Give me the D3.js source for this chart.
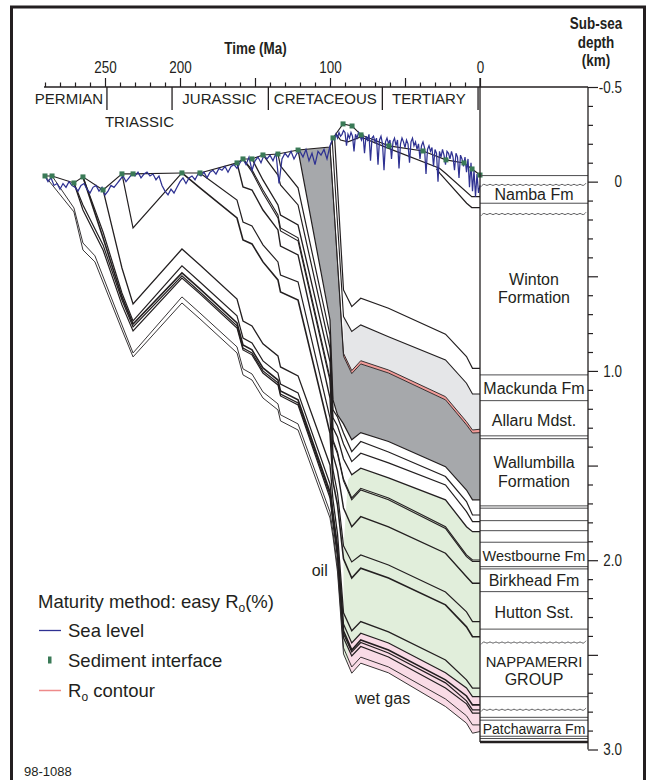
<!DOCTYPE html>
<html><head><meta charset="utf-8">
<script src="https://cdn.jsdelivr.net/npm/d3@7"></script>
<style>
html,body{margin:0;padding:0;background:#fff;}
svg{display:block;}
text{font-family:"Liberation Sans",Arial,Helvetica,sans-serif;fill:#231f20;}
</style></head><body>
<svg id="c" width="648" height="780"></svg>
<script>
// ---------------- DATA (age in Ma, depth in km below sea level) ----------------
const timeMinorTicks = [290,280,270,260,240,230,220,210,190,180,170,160,140,130,120,110,90,80,70,60,40,30,20,10];
const timeMajorTicks = [250,200,150,100,50,0];
const timeTickLabels = [250,200,100,0];
const depthMinorTicks = [-0.4,-0.3,-0.2,-0.1,0.1,0.2,0.3,0.4,0.6,0.7,0.8,0.9,1.1,1.2,1.3,1.4,1.6,1.7,1.8,1.9,2.1,2.2,2.3,2.4,2.6,2.7,2.8,2.9];
const depthMajorTicks = [-0.5,0,0.5,1,1.5,2,2.5,3];
const depthTickLabels = [-0.5,0,1,2,3];

const periodNames = ["PERMIAN","TRIASSIC","JURASSIC","CRETACEOUS","TERTIARY"];
const periodLabelAges = [274,227,173.7,103.1,34.1];
const periodLabelRows = [0,1,0,0,0];
const periodBounds = [248.7,205.3,141.1,65.1,1.3];

const surface = [[290,-0.030],[285.3,-0.030],[270.7,0.007],[264.7,-0.025],[251.3,0.044],[238.7,-0.041],[231.3,-0.041],[198.7,-0.046],[186.7,-0.046],[162,-0.099],[158,-0.120],[152,-0.120],[144.7,-0.141],[134.7,-0.146],[121.3,-0.167],[100,-0.183],[98,-0.231],[91.3,-0.305],[85.3,-0.294],[79.3,-0.247],[60.7,-0.189],[38,-0.162],[22.7,-0.115],[10.7,-0.099],[5.3,-0.067],[0,-0.035]];

const H1 = [[290,-0.030],[270.7,0.160],[264.7,0.361],[256.7,0.424],[238.7,0.783],[231.3,0.926],[198.7,0.641],[186.7,0.725],[162,0.905],[158,1.021],[152,1.048],[144.7,1.143],[134.7,1.206],[133,1.264],[121.3,1.312],[100,1.777],[98,1.877],[95,2.062],[91,2.495],[85.5,2.597],[79.5,2.544],[61,2.595],[23,2.773],[9,2.861],[5,2.914],[0,2.905]];
const H2 = [[285.3,-0.030],[270.7,0.139],[264.7,0.324],[256.7,0.392],[238.7,0.757],[231.3,0.905],[198.7,0.609],[186.7,0.694],[162,0.873],[158,0.989],[152,1.016],[144.7,1.111],[134.7,1.174],[133,1.232],[121.3,1.280],[100,1.745],[98,1.850],[95,2.035],[91,2.463],[85.5,2.564],[79.5,2.512],[61,2.564],[23,2.733],[9,2.822],[5,2.870],[0,2.870]];
const H3 = [[270.7,0.007],[264.7,0.150],[251.3,0.361],[238.7,0.651],[231.3,0.789],[198.7,0.509],[186.7,0.593],[162,0.773],[158,0.889],[152,0.915],[144.7,1.011],[134.7,1.074],[133,1.132],[121.3,1.180],[100,1.671],[98,1.803],[95,1.983],[91,2.410],[85.5,2.506],[79.5,2.456],[61,2.511],[23,2.675],[9,2.759],[5,2.808],[0,2.808]];
const H4 = [[270.7,0.007],[264.7,0.123],[251.3,0.334],[238.7,0.625],[231.3,0.768],[198.7,0.498],[186.7,0.583],[162,0.762],[158,0.879],[152,0.905],[144.7,1.000],[134.7,1.063],[133,1.122],[121.3,1.169],[100,1.655],[98,1.787],[95,1.967],[91,2.389],[85.5,2.484],[79.5,2.435],[61,2.490],[23,2.648],[9,2.743],[5,2.791],[0,2.791]];
const H5 = [[264.7,-0.025],[251.3,0.297],[238.7,0.609],[231.3,0.752],[198.7,0.482],[186.7,0.567],[162,0.746],[158,0.863],[152,0.889],[144.7,0.984],[134.7,1.048],[133,1.106],[121.3,1.153],[100,1.639],[98,1.771],[95,1.951],[91,2.373],[85.5,2.474],[79.5,2.421],[61,2.474],[23,2.632],[9,2.717],[5,2.764],[0,2.764]];
const H6 = [[264.7,-0.025],[251.3,0.266],[238.7,0.588],[231.3,0.736],[198.7,0.445],[186.7,0.530],[162,0.709],[158,0.826],[152,0.852],[144.7,0.947],[134.7,1.011],[133,1.069],[121.3,1.116],[100,1.597],[98,1.745],[95,1.924],[91,2.337],[85.5,2.437],[79.5,2.386],[61,2.437],[23,2.595],[9,2.675],[5,2.721],[0,2.721]];
const H7 = [[251.3,0.044],[238.7,0.456],[231.3,0.646],[198.7,0.356],[186.7,0.440],[162,0.620],[158,0.736],[152,0.762],[144.7,0.857],[134.7,0.921],[133,0.979],[121.3,1.026],[100,1.497],[98,1.681],[95,1.861],[91,2.278],[85.5,2.373],[79.5,2.324],[61,2.379],[23,2.527],[9,2.632],[5,2.676],[0,2.676]];
const H8 = [[238.7,-0.041],[231.3,0.245],[198.7,-0.046]];
const J1 = [[198.7,-0.046],[186.7,0.033],[162,0.192],[158,0.308],[152,0.329],[144.7,0.424],[134.7,0.519],[133,0.583],[121.3,0.625],[100,1.328],[98,1.586],[95,1.708],[91,1.993],[85.5,2.094],[79.5,2.042],[61,2.094],[23,2.236],[9,2.352],[5,2.404],[0,2.404]];
const J2 = [[186.7,-0.046],[162,0.097],[158,0.213],[152,0.234],[144.7,0.334],[134.7,0.424],[133,0.493],[121.3,0.530],[100,1.248],[98,1.523],[95,1.645],[91,1.924],[85.5,2.009],[79.5,1.972],[61,2.025],[23,2.168],[9,2.273],[5,2.324],[0,2.324]];
const K162 = [[162,-0.099],[158,0.028],[152,0.044],[144.7,0.150],[134.7,0.255],[133,0.340],[121.3,0.387],[100,1.143],[98,1.444],[95,1.528],[91,1.724],[85.5,1.823],[79.5,1.770],[61,1.824],[23,1.963],[9,2.087],[5,2.122],[0,2.122]];
const K158a = [[158,-0.120],[152,-0.062],[144.7,0.044],[134.7,0.176],[133,0.245],[121.3,0.297],[100,1.037],[98,1.364],[95,1.428],[91,1.571],[85.5,1.671],[79.5,1.620],[61,1.671],[23,1.823],[9,1.972],[5,1.999],[0,1.999]];
const K158b = [[158,-0.120],[152,-0.051],[144.7,0.060],[134.7,0.192],[133,0.260],[121.3,0.313],[100,1.053],[98,1.375],[95,1.438],[91,1.581],[85.5,1.681],[79.5,1.629],[61,1.681],[23,1.832],[9,1.981],[5,2.007],[0,2.007]];
const K152 = [[152,-0.120],[144.7,-0.009],[134.7,0.123],[133,0.176],[121.3,0.229],[100,0.952],[98,1.301],[95,1.349],[91,1.465],[85.5,1.549],[79.5,1.514],[61,1.565],[23,1.681],[9,1.823],[5,1.849],[0,1.849]];
const K145 = [[144.7,-0.141],[134.7,-0.035],[133,0.017],[121.3,0.123],[100,0.879],[98,1.248],[95,1.291],[91,1.386],[85.5,1.479],[79.5,1.435],[61,1.486],[23,1.602],[9,1.743],[5,1.796],[0,1.796]];
const K135 = [[134.7,-0.146],[133,-0.083],[121.3,0.033],[100,0.810],[98,1.206],[95,1.243],[91,1.328],[85.5,1.426],[79.5,1.373],[61,1.428],[23,1.558],[9,1.690],[5,1.761],[0,1.761]];
const wallumbillaBase = [[121.3,-0.167],[100,0.731],[98,1.153],[95,1.232],[91,1.280],[85.5,1.364],[79.5,1.326],[61,1.373],[23,1.506],[9,1.629],[5,1.681],[0,1.681]];
const roTop = [[100,-0.183],[91,0.907],[85.5,0.998],[79.5,0.946],[61,0.995],[23,1.136],[9,1.268],[5,1.312],[0,1.308]];
const roBottom = [[100,-0.183],[91,0.922],[85.5,1.014],[79.5,0.963],[61,1.011],[23,1.153],[9,1.285],[5,1.328],[0,1.326]];
const mackundaBase = [[98.5,-0.215],[91,0.713],[85.5,0.792],[79.5,0.757],[61,0.819],[23,0.942],[9,1.065],[5,1.122],[0,1.122]];
const wintonBase = [[97,-0.241],[91,0.572],[85.5,0.660],[79.5,0.616],[61,0.669],[23,0.806],[9,0.924],[5,0.986],[0,0.986]];
const namba1 = [[96,-0.252],[93,-0.220],[88,-0.210],[79.5,-0.236],[61,-0.176],[27,-0.071],[23,-0.044],[5.5,0.079],[0,0.079]];
const namba2 = [[29,-0.067],[26.7,-0.044],[8.9,0.114],[5.5,0.137],[0,0.137]];

const oilTop = [[91,1.930],[88,1.576],[85.5,1.549],[79.5,1.514],[61,1.565],[23,1.681],[9,1.823],[5,1.849],[0,1.849]];
const gasTop = [[87.8,2.400],[85.5,2.437],[79.5,2.386],[61,2.437],[23,2.595],[9,2.675],[5,2.721],[0,2.721]];
const gasTip = [87.8,2.553];

const seaLevel = [
[290,-0.03],[288,0.00],[286,-0.02],[284,0.02],[282,0.01],[280,0.04],[278,0.01],[276,0.03],[274,0.00],[272,0.02],
[270,0.03],[268,0.05],[266,0.02],[264,0.01],[262,0.04],[260,0.06],[258,0.03],[256,0.02],[254,0.05],[252,0.03],
[250,0.07],[248,0.05],[246,0.02],[244,0.03],[242,0.01],[240,-0.01],[238,-0.03],[236,0.00],[234,-0.02],[232,-0.04],
[230,-0.03],[228,-0.05],[226,-0.02],[224,-0.04],[222,-0.05],[220,-0.03],[218,-0.04],[216,-0.01],[214,-0.03],[212,0.02],
[210,0.05],[208,0.07],[206,0.04],[204,0.06],[202,0.03],[200,0.00],[198,-0.02],[196,0.01],[194,-0.02],[192,-0.03],
[190,-0.01],[188,-0.04],[186,-0.03],[184,-0.05],[182,-0.02],[180,-0.05],[178,-0.06],[176,-0.04],[174,-0.07],[172,-0.06],
[170,-0.08],[168,-0.05],[166,-0.08],[164,-0.09],[162,-0.07],[160,-0.10],[158,-0.12],[156,-0.09],[154,-0.13],[152,-0.06],
[150,-0.11],[148,-0.13],[146,-0.10],[144,-0.14],[142,-0.12],[140,-0.14],[138,-0.11],[136,-0.15],[134,0.01],[132,-0.12],
[130,-0.15],[128,-0.13],[126,-0.16],[124,-0.12],[122,-0.15],[120,-0.16],[118,-0.13],[116,-0.17],[114,-0.11],[112,-0.15],
[110,-0.09],[108,-0.16],[106,-0.14],[104,-0.17],[102,-0.12],[100,-0.19],
[99,-0.21],[98,-0.23],[97,-0.22],[96,-0.25],[95,-0.23],[94,-0.26],[93,-0.24],[92,-0.25],[91,-0.27],[90,-0.26],
[89,-0.19],[88,-0.25],[87,-0.23],[86,-0.26],[85,-0.24],[84,-0.16],[83,-0.25],[82,-0.23],[81,-0.26],[80,-0.24],
[79,-0.22],[78,-0.25],[77,-0.15],[76,-0.24],[75,-0.22],[74,-0.25],[73,-0.11],[72,-0.23],[71,-0.24],[70,-0.21],
[69,-0.23],[68,-0.09],[67,-0.22],[66,-0.24],[65,-0.20],[64,-0.06],[63,-0.21],[62,-0.23],[61,-0.20],[60,-0.22],
[59,-0.12],[58,-0.21],[57,-0.23],[56,-0.19],[55,-0.22],[54,-0.07],[53,-0.20],[52,-0.23],[51,-0.21],[50,-0.18],
[49,-0.22],[48,-0.20],[47,-0.10],[46,-0.21],[45,-0.23],[44,-0.19],[43,-0.21],[42,-0.17],[41,-0.20],[40,-0.12],
[39,-0.19],[38,-0.21],[37,-0.18],[36,-0.04],[35,-0.17],[34,-0.19],[33,-0.16],[32,-0.18],[31,-0.08],[30,-0.17],
[29,-0.15],[28,0.00],[27,-0.16],[26,-0.13],[25,-0.17],[24,-0.14],[23,-0.09],[22,-0.16],[21,-0.15],[20,-0.12],
[19,-0.16],[18,-0.13],[17,-0.06],[16,-0.15],[15,-0.13],[14,-0.02],[13,-0.14],[12,-0.12],[11,-0.08],[10,-0.13],
[9,-0.05],[8,-0.12],[7,0.03],[6,-0.10],[5,0.05],[4,-0.06],[3,0.08],[2,-0.04],[1,0.06],[0,0.02]];

const columnLines = [-0.032,0.114,1.021,1.157,1.343,1.358,1.713,1.725,1.791,1.844,1.905,2.034,2.046,2.166,2.364,2.721,2.830,2.845,2.930,2.942];
const columnBase = 2.960;
const unconformities = [0.017,0.171,2.435,2.790];
const formationNames = ["Namba Fm","Winton","Formation","Mackunda Fm","Allaru Mdst.","Wallumbilla","Formation","Westbourne Fm","Birkhead Fm","Hutton Sst.","NAPPAMERRI","GROUP","Patchawarra Fm"];
const formationLabelDepths = [0.097,0.546,0.642,1.122,1.291,1.512,1.613,2.004,2.136,2.305,2.564,2.659,2.918];

// ---------------- STYLE ----------------
const formationFontSizes = [16,16,16,16,16,16,16,14.5,16,16,14.8,16,14];
const ink = "#231f20";
const NARROW = 0.84; // condensed face imitation for axis lettering

// ---------------- DRAW ----------------
const svg = d3.select("#c");
const x = d3.scaleLinear().domain([290,0]).range([45,480]);
const y = d3.scaleLinear().domain([-0.5,3]).range([87,749.5]);
const line = d3.line().x(d=>x(d[0])).y(d=>y(d[1]));
const poly = pts => line(pts) + "Z";
function narrow(sel){
  sel.each(function(){
    const w = this.getComputedTextLength();
    if (w > 0) d3.select(this).attr("textLength", w*NARROW).attr("lengthAdjust","spacingAndGlyphs");
  });
}

// frame
svg.append("rect").attr("x",11.5).attr("y",7).attr("width",633).attr("height",790)
  .attr("fill","none").attr("stroke",ink).attr("stroke-width",3);

// fills
const gF = svg.append("g");
const h1Young = H1.filter(d=>d[0]<=91).slice().reverse();
gF.append("path").attr("d", poly(oilTop.concat(h1Young))).attr("fill","#e1eedb");
const h1Pink = H1.filter(d=>d[0]<=85.5).slice().reverse();
gF.append("path").attr("d", poly(gasTop.concat(h1Pink,[gasTip]))).attr("fill","#f9dbe6");
const surfWedge = surface.filter(d=>d[0]<=121.3 && d[0]>100);
gF.append("path").attr("d", poly(surfWedge.concat(roBottom, wallumbillaBase.slice().reverse()))).attr("fill","#a6a8ab");
gF.append("path").attr("d", poly(mackundaBase.filter(d=>d[0]<=91).concat(roTop.filter(d=>d[0]<=91).slice().reverse()))).attr("fill","#e5e6e8");
gF.append("path").attr("d", poly(roTop.concat(roBottom.slice().reverse()))).attr("fill","#f19c99");

// horizons
const horizons = [H1,H2,H3,H4,H5,H6,H7,H8,J1,J2,K162,K158a,K158b,K152,K145,K135,wallumbillaBase,roTop,roBottom,mackundaBase,wintonBase,namba1,namba2];
const horizonWidths = [0.9,0.9,1.2,1.2,1.6,1.2,1.3,1.2,1.6,1.2,1.4,1.1,1.1,1.3,1.2,1.2,1.2,0.9,0.9,1.1,1.2,1.2,1.2];
const gH = svg.append("g").attr("fill","none").attr("stroke",ink).attr("stroke-linejoin","miter");
horizons.forEach((h,i)=>{
  gH.append("path").attr("d", line(h)).attr("stroke-width", horizonWidths[i]);
});
gH.append("path").attr("d", line(surface)).attr("stroke-width",1.1);

// sea level
svg.append("path").attr("d", line(seaLevel)).attr("fill","none").attr("stroke","#2e3192").attr("stroke-width",1.25);

// sediment interface markers
svg.append("g").selectAll("rect").data(surface.filter(d=>d[0]!==100)).join("rect")
  .attr("x",d=>x(d[0])-2.5).attr("y",d=>y(d[1])-2.5).attr("width",5).attr("height",5)
  .attr("fill","#3a7a57");

// stratigraphic column
const gC = svg.append("g");
gC.selectAll("line.cl").data(columnLines).join("line").attr("class","cl")
  .attr("x1",480).attr("x2",588).attr("y1",d=>y(d)).attr("y2",d=>y(d))
  .attr("stroke","#4d4d4f").attr("stroke-width",1);
gC.append("line").attr("x1",480).attr("x2",588).attr("y1",y(columnBase)).attr("y2",y(columnBase))
  .attr("stroke",ink).attr("stroke-width",2.5);
unconformities.forEach(u=>{
  const pts=[]; let k=0;
  for(let px=481; px<=587; px+=3){ pts.push([px, y(u) + (k++%2 ? -1.8 : 1.8)]); }
  gC.append("path").attr("d", d3.line().curve(d3.curveBasis)(pts)).attr("fill","none").attr("stroke","#4d4d4f").attr("stroke-width",0.9);
});
gC.selectAll("text").data(formationNames).join("text")
  .attr("x",534).attr("y",(d,i)=>y(formationLabelDepths[i])).attr("text-anchor","middle")
  .style("font-size",(d,i)=>formationFontSizes[i]+"px").text(d=>d);
// present-day line and depth axis line
svg.append("line").attr("x1",480).attr("x2",480).attr("y1",78).attr("y2",y(columnBase)).attr("stroke",ink).attr("stroke-width",1.3);
svg.append("line").attr("x1",588).attr("x2",588).attr("y1",87).attr("y2",y(3)).attr("stroke",ink).attr("stroke-width",1.3);
// time axis line
svg.append("line").attr("x1",44).attr("x2",588).attr("y1",87).attr("y2",87).attr("stroke",ink).attr("stroke-width",1.3);

// time axis
const gxMin = svg.append("g").attr("transform","translate(0,87)")
  .call(d3.axisTop(x).tickValues(timeMinorTicks).tickSize(4.5).tickFormat(""));
const gxMaj = svg.append("g").attr("transform","translate(0,87)")
  .call(d3.axisTop(x).tickValues(timeMajorTicks).tickSize(9).tickPadding(5)
    .tickFormat(d=> timeTickLabels.includes(d) ? String(d) : ""));
[gxMin,gxMaj].forEach(g=>{ g.select(".domain").remove(); g.selectAll(".tick line").attr("stroke",ink).attr("stroke-width",1.2); });
gxMaj.selectAll(".tick text").attr("font-family",null).style("font-family",'"Liberation Sans",Arial,sans-serif')
  .style("font-size","16px").attr("fill",ink).call(narrow);

// depth axis
const gyMin = svg.append("g").attr("transform","translate(588,0)")
  .call(d3.axisRight(y).tickValues(depthMinorTicks).tickSize(5).tickFormat(""));
const gyMaj = svg.append("g").attr("transform","translate(588,0)")
  .call(d3.axisRight(y).tickValues(depthMajorTicks).tickSize(10)
    .tickFormat(d=> depthTickLabels.includes(d) ? (d===0 ? "0" : d.toFixed(1)) : ""));
[gyMin,gyMaj].forEach(g=>{ g.select(".domain").remove(); g.selectAll(".tick line").attr("stroke",ink).attr("stroke-width",1.2); });
gyMaj.selectAll(".tick text").attr("x",34).attr("text-anchor","end")
  .style("font-family",'"Liberation Sans",Arial,sans-serif').style("font-size","16px").attr("fill",ink).call(narrow);

// period boundaries and names
svg.append("g").selectAll("line").data(periodBounds).join("line")
  .attr("x1",d=>x(d)).attr("x2",d=>x(d)).attr("y1",87).attr("y2",110)
  .attr("stroke",ink).attr("stroke-width",1.3);
svg.append("g").selectAll("text").data(periodNames).join("text")
  .attr("x",(d,i)=>x(periodLabelAges[i])).attr("y",(d,i)=>periodLabelRows[i] ? 126.7 : 104)
  .attr("text-anchor","middle").style("font-size","15px").text(d=>d);

// titles
svg.append("text").attr("x",255.5).attr("y",54).attr("text-anchor","middle")
  .style("font-size","16px").style("font-weight","bold").text("Time (Ma)").call(narrow);
[["Sub-sea",29],["depth",48],["(km)",66]].forEach(t=>{
  svg.append("text").attr("x",596).attr("y",t[1]).attr("text-anchor","middle")
    .style("font-size","16px").style("font-weight","bold").text(t[0]).call(narrow);
});

// zone labels
svg.append("text").attr("x",311.7).attr("y",576).style("font-size","16px").text("oil");
svg.append("text").attr("x",355).attr("y",704).style("font-size","16px").text("wet gas");

// legend
const lg = svg.append("g");
const t1 = lg.append("text").attr("x",38).attr("y",608).style("font-size","18.5px");
t1.append("tspan").text("Maturity method: easy R");
t1.append("tspan").attr("dy",4).style("font-size","12px").text("o");
t1.append("tspan").attr("dy",-4).text("(%)");
lg.append("line").attr("x1",39).attr("x2",61).attr("y1",630.5).attr("y2",630.5).attr("stroke","#2e3192").attr("stroke-width",1.3);
lg.append("text").attr("x",68).attr("y",637).style("font-size","18.5px").text("Sea level");
lg.append("rect").attr("x",48).attr("y",656.5).attr("width",3.5).attr("height",7).attr("fill","#3a7a57");
lg.append("text").attr("x",68).attr("y",667).style("font-size","18.5px").text("Sediment interface");
lg.append("line").attr("x1",39).attr("x2",61).attr("y1",690.5).attr("y2",690.5).attr("stroke","#ee8a8a").attr("stroke-width",1.5);
const t2 = lg.append("text").attr("x",68).attr("y",697).style("font-size","18.5px");
t2.append("tspan").text("R");
t2.append("tspan").attr("dy",4).style("font-size","12px").text("o");
t2.append("tspan").attr("dy",-4).text(" contour");

svg.append("text").attr("x",24).attr("y",776).style("font-size","13px").text("98-1088");
</script></body></html>
